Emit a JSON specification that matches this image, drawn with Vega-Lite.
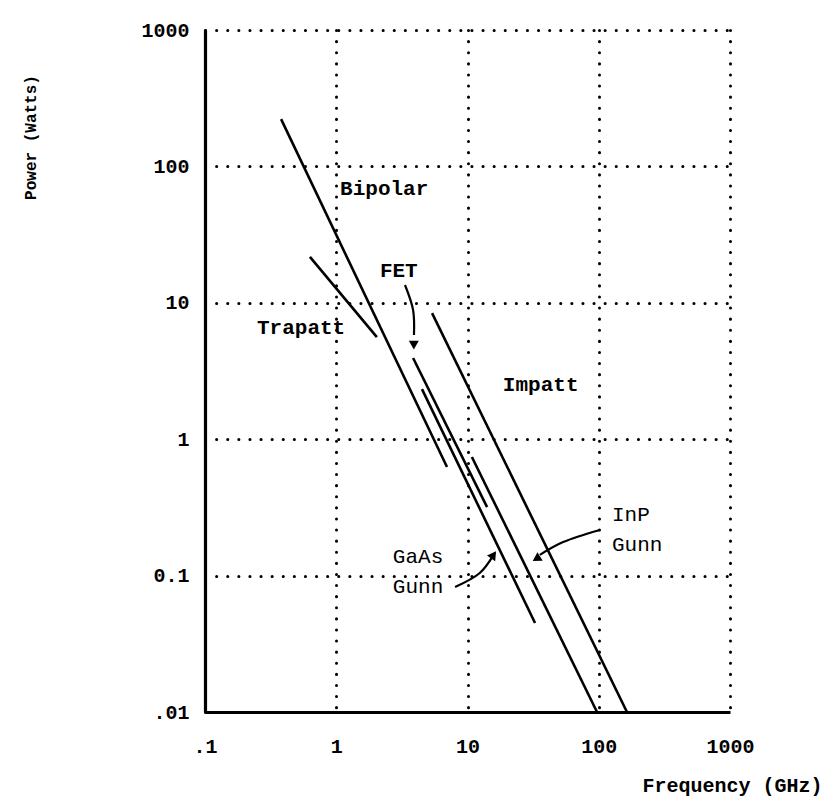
{
  "$schema": "https://vega.github.io/schema/vega-lite/v6.json",
  "width": 525,
  "height": 682,
  "autosize": {"type": "none"},
  "padding": {"left": 205, "top": 30, "right": 102, "bottom": 94},
  "background": "white",
  "config": {
    "view": {"stroke": null},
    "font": "Liberation Mono",
    "axis": {
      "grid": true,
      "gridColor": "black",
      "gridDash": [0.1, 11],
      "gridWidth": 3,
      "gridCap": "round",
      "gridOpacity": 1,
      "domainColor": "black",
      "domainWidth": 3.2,
      "ticks": false,
      "labelFont": "Liberation Mono",
      "labelFontSize": 20,
      "labelColor": "black",
      "labelFontWeight": "bold",
      "titleFont": "Liberation Mono",
      "titleFontWeight": "bold",
      "titleColor": "black"
    }
  },
  "datasets": {
    "devices": [
      {"device": "Bipolar", "f": 0.38, "p": 222},
      {"device": "Bipolar", "f": 6.98, "p": 0.625},
      {"device": "Trapatt", "f": 0.63, "p": 21.7},
      {"device": "Trapatt", "f": 2.04, "p": 5.6},
      {"device": "FET", "f": 3.85, "p": 3.94},
      {"device": "FET", "f": 14.1, "p": 0.318},
      {"device": "GaAs Gunn", "f": 4.5, "p": 2.33},
      {"device": "GaAs Gunn", "f": 32.7, "p": 0.0449},
      {"device": "InP Gunn", "f": 10.8, "p": 0.741},
      {"device": "InP Gunn", "f": 97, "p": 0.01},
      {"device": "Impatt", "f": 5.37, "p": 8.4},
      {"device": "Impatt", "f": 164, "p": 0.01}
    ],
    "labels": [
      {"text": "Bipolar", "f": 1.07, "p": 68, "bold": true},
      {"text": "Trapatt", "f": 0.249, "p": 6.53, "bold": true},
      {"text": "FET", "f": 2.15, "p": 17.1, "bold": true},
      {"text": "Impatt", "f": 18.6, "p": 2.49, "bold": true},
      {"text": "InP", "f": 126, "p": 0.278, "bold": false},
      {"text": "Gunn", "f": 126, "p": 0.168, "bold": false},
      {"text": "GaAs", "f": 2.7, "p": 0.137, "bold": false},
      {"text": "Gunn", "f": 2.7, "p": 0.0824, "bold": false}
    ],
    "arrows": [
      {"arrow": "FET", "order": 1, "f": 3.34, "p": 13.5},
      {"arrow": "FET", "order": 2, "f": 3.85, "p": 8.85},
      {"arrow": "FET", "order": 3, "f": 3.91, "p": 5.8},
      {"arrow": "GaAs", "order": 1, "f": 8.04, "p": 0.0824},
      {"arrow": "GaAs", "order": 2, "f": 12.4, "p": 0.1045},
      {"arrow": "GaAs", "order": 3, "f": 15.6, "p": 0.139},
      {"arrow": "InP", "order": 1, "f": 102, "p": 0.216},
      {"arrow": "InP", "order": 2, "f": 53.5, "p": 0.176},
      {"arrow": "InP", "order": 3, "f": 35.6, "p": 0.142}
    ],
    "headFET": [{"f": 3.9, "p": 4.9}],
    "headGaAs": [{"f": 15.8, "p": 0.142}],
    "headInP": [{"f": 33.5, "p": 0.133}]
  },
  "layer": [
    {
      "data": {"name": "devices"},
      "mark": {"type": "line", "color": "black", "strokeWidth": 2.6},
      "encoding": {
        "x": {
          "field": "f", "type": "quantitative",
          "scale": {"type": "log", "domain": [0.1, 1000], "nice": false},
          "axis": {
            "values": [0.1, 1, 10, 100, 1000],
            "labelExpr": "datum.value < 0.5 ? '.1' : format(datum.value, 'd')",
            "labelPadding": 24,
            "labelFlush": false,
            "title": "Frequency (GHz)",
            "titleFontSize": 20,
            "titleX": 617,
            "titleY": 73,
            "titleAlign": "right",
            "titleBaseline": "middle",
            "titleAnchor": null
          }
        },
        "y": {
          "field": "p", "type": "quantitative",
          "scale": {"type": "log", "domain": [0.01, 1000], "nice": false},
          "axis": {
            "values": [0.01, 0.1, 1, 10, 100, 1000],
            "labelExpr": "datum.value < 0.05 ? '.01' : datum.value < 0.5 ? '0.1' : format(datum.value, 'd')",
            "labelPadding": 16,
            "labelFlush": false,
            "title": "Power (Watts)",
            "titleFontSize": 16,
            "titleAngle": 270,
            "titleX": -175,
            "titleY": 107,
            "titleAlign": "center",
            "titleBaseline": "middle",
            "titleAnchor": null
          }
        },
        "detail": {"field": "device"}
      }
    },
    {
      "data": {"name": "arrows"},
      "mark": {"type": "line", "color": "black", "strokeWidth": 2.2, "interpolate": "catmull-rom"},
      "encoding": {
        "x": {"field": "f", "type": "quantitative"},
        "y": {"field": "p", "type": "quantitative"},
        "order": {"field": "order"},
        "detail": {"field": "arrow"}
      }
    },
    {
      "data": {"name": "headFET"},
      "mark": {"type": "point", "shape": "triangle-down", "filled": true, "color": "black", "opacity": 1, "size": 100},
      "encoding": {"x": {"field": "f", "type": "quantitative"}, "y": {"field": "p", "type": "quantitative"}}
    },
    {
      "data": {"name": "headGaAs"},
      "mark": {"type": "point", "shape": "triangle-up", "angle": 35, "filled": true, "color": "black", "opacity": 1, "size": 100},
      "encoding": {"x": {"field": "f", "type": "quantitative"}, "y": {"field": "p", "type": "quantitative"}}
    },
    {
      "data": {"name": "headInP"},
      "mark": {"type": "point", "shape": "triangle-up", "angle": 238, "filled": true, "color": "black", "opacity": 1, "size": 100},
      "encoding": {"x": {"field": "f", "type": "quantitative"}, "y": {"field": "p", "type": "quantitative"}}
    },
    {
      "data": {"name": "labels"},
      "transform": [{"filter": "datum.bold"}],
      "mark": {"type": "text", "align": "left", "baseline": "middle", "font": "Liberation Mono", "fontWeight": "bold", "fontSize": 21, "color": "black"},
      "encoding": {
        "x": {"field": "f", "type": "quantitative"},
        "y": {"field": "p", "type": "quantitative"},
        "text": {"field": "text"}
      }
    },
    {
      "data": {"name": "labels"},
      "transform": [{"filter": "!datum.bold"}],
      "mark": {"type": "text", "align": "left", "baseline": "middle", "font": "Liberation Mono", "fontWeight": "normal", "fontSize": 21, "color": "black"},
      "encoding": {
        "x": {"field": "f", "type": "quantitative"},
        "y": {"field": "p", "type": "quantitative"},
        "text": {"field": "text"}
      }
    }
  ]
}
